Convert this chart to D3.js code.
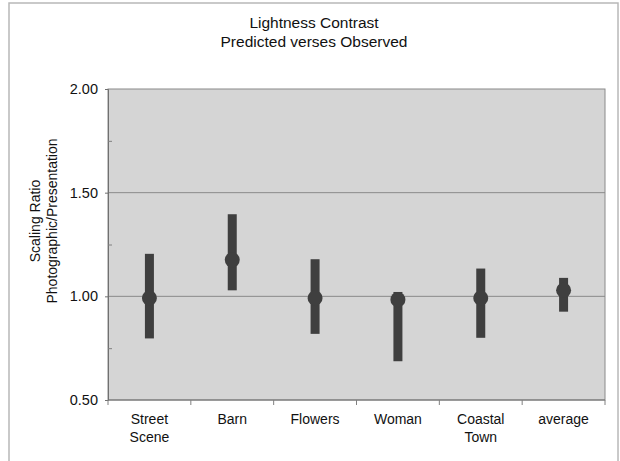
<!DOCTYPE html>
<html>
<head>
<meta charset="utf-8">
<script src="https://cdn.jsdelivr.net/npm/d3@7"></script>
<style>
  html, body { margin: 0; padding: 0; background: #fff; }
  svg { display: block; font-family: "Liberation Sans", Arial, sans-serif; }
</style>
</head>
<body>
<div id="chart"></div>
<script>
// Lightness contrast: predicted vs observed scaling ratio, point + range per image.

const categories = [['Street', 'Scene'], ['Barn'], ['Flowers'], ['Woman'], ['Coastal', 'Town'], ['average']];
const midValues = [0.992, 1.176, 0.992, 0.984, 0.992, 1.029];
const lowValues = [0.797, 1.029, 0.819, 0.687, 0.800, 0.926];
const highValues = [1.205, 1.396, 1.179, 1.021, 1.134, 1.089];
const yTicks = [0.5, 1.0, 1.5, 2.0];
const yMinorTicks = [0.75, 1.25, 1.75];
const gridValues = [1.0, 1.5];

const width = 620, height = 461;
const margin = { top: 89, right: 15, bottom: 61, left: 108 };

const svg = d3.select('#chart').append('svg')
  .attr('width', width)
  .attr('height', height);

// outer frame (bottom edge runs off the picture)
svg.append('rect')
  .attr('x', 9).attr('y', 3)
  .attr('width', 609).attr('height', 470)
  .attr('fill', 'none')
  .attr('stroke', '#b8b8b8')
  .attr('stroke-width', 1.5);

const x = d3.scaleBand()
  .domain(categories.map((c, i) => i))
  .range([margin.left, width - margin.right]);

const y = d3.scaleLinear()
  .domain([0.5, 2.0])
  .range([height - margin.bottom, margin.top]);

// plot background
svg.append('rect')
  .attr('x', margin.left).attr('y', margin.top)
  .attr('width', x.range()[1] - margin.left)
  .attr('height', y(0.5) - margin.top)
  .attr('fill', '#d5d5d5')
  .attr('stroke', '#8a8a8a')
  .attr('stroke-width', 1);

// gridlines
svg.append('g').selectAll('line')
  .data(gridValues)
  .join('line')
  .attr('x1', margin.left).attr('x2', x.range()[1])
  .attr('y1', (d) => y(d)).attr('y2', (d) => y(d))
  .attr('stroke', '#8a8a8a');

// y axis: major ticks outward, minor ticks inward
const yAxis = svg.append('g')
  .attr('transform', `translate(${margin.left},0)`)
  .call(d3.axisLeft(y).tickValues(yTicks).tickFormat(d3.format('.2f')).tickSize(3).tickPadding(7));
yAxis.select('.domain').attr('stroke', '#707070');
yAxis.selectAll('.tick line').attr('stroke', '#707070');
yAxis.selectAll('.tick text').attr('font-size', 14.5).attr('fill', '#111')
  .attr('font-family', '"Liberation Sans", Arial, sans-serif');

svg.append('g')
  .attr('transform', `translate(${margin.left},0)`)
  .call(d3.axisRight(y).tickValues(yMinorTicks).tickFormat('').tickSize(4))
  .call((g) => g.select('.domain').remove())
  .selectAll('.tick line').attr('stroke', '#808080');

// x axis: ticks at category boundaries
const xAxisG = svg.append('g')
  .attr('transform', `translate(0,${y(0.5)})`);
xAxisG.append('line')
  .attr('x1', margin.left).attr('x2', x.range()[1])
  .attr('stroke', '#707070');
const boundaries = categories.map((c, i) => x(i)).concat([x.range()[1]]);
xAxisG.selectAll('line.tk')
  .data(boundaries)
  .join('line')
  .attr('class', 'tk')
  .attr('x1', (d) => d).attr('x2', (d) => d)
  .attr('y1', 0).attr('y2', 5)
  .attr('stroke', '#808080');

const xLabels = xAxisG.selectAll('text')
  .data(categories)
  .join('text')
  .attr('text-anchor', 'middle')
  .attr('font-size', 14)
  .attr('fill', '#111')
  .attr('x', (d, i) => x(i) + x.bandwidth() / 2)
  .attr('y', 24);
xLabels.selectAll('tspan')
  .data((d) => d)
  .join('tspan')
  .attr('x', function () { return this.parentNode.getAttribute('x'); })
  .attr('dy', (d, i) => (i === 0 ? 0 : 18))
  .text((d) => d);

// range bars and points
const marks = svg.append('g');
marks.selectAll('rect')
  .data(midValues)
  .join('rect')
  .attr('x', (d, i) => x(i) + x.bandwidth() / 2 - 4.5)
  .attr('width', 9)
  .attr('y', (d, i) => y(highValues[i]))
  .attr('height', (d, i) => y(lowValues[i]) - y(highValues[i]))
  .attr('fill', '#3f3f3f');
marks.selectAll('circle')
  .data(midValues)
  .join('circle')
  .attr('cx', (d, i) => x(i) + x.bandwidth() / 2)
  .attr('cy', (d) => y(d))
  .attr('r', 7.5)
  .attr('fill', '#3f3f3f');

// title
const title = svg.append('text')
  .attr('text-anchor', 'middle')
  .attr('font-size', 15.5)
  .attr('fill', '#111')
  .attr('x', 314).attr('y', 28);
title.append('tspan').attr('x', 314).text('Lightness Contrast');
title.append('tspan').attr('x', 314).attr('dy', 19).text('Predicted verses Observed');

// y axis title
const yTitle = svg.append('text')
  .attr('text-anchor', 'middle')
  .attr('font-size', 14)
  .attr('fill', '#111')
  .attr('transform', 'translate(40,221) rotate(-90)');
yTitle.append('tspan').attr('x', 0).attr('y', 0).text('Scaling Ratio');
yTitle.append('tspan').attr('x', 0).attr('dy', 17).text('Photographic/Presentation');
</script>
</body>
</html>
